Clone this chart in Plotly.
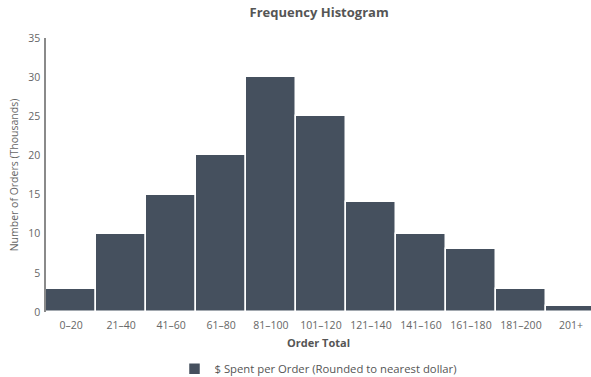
import plotly.graph_objects as go

# Order totals grouped into $20 bins
bins = ["0–20", "21–40", "41–60", "61–80", "81–100", "101–120",
        "121–140", "141–160", "161–180", "181–200", "201+"]
orders_thousands = [3, 10, 15, 20, 30, 25, 14, 10, 8, 3, 0.8]

bar_color = "#45505e"
text_gray = "#666666"

fig = go.Figure()
fig.add_trace(go.Bar(
    x=list(range(len(bins))),
    y=orders_thousands,
    name="$ Spent per Order (Rounded to nearest dollar)",
    marker=dict(color=bar_color, line=dict(color="white", width=1.5)),
    width=1.0,
    showlegend=True,
))

fig.update_layout(
    width=591, height=377,
    margin=dict(l=46, r=0, t=38, b=65, autoexpand=False),
    paper_bgcolor="white", plot_bgcolor="white",
    font=dict(family="Open Sans", size=10, color=text_gray),
    title=dict(text="<b>Frequency Histogram</b>", x=0.54, xanchor="center",
               y=0.968, yanchor="middle",
               font=dict(family="Open Sans", size=13, color="#555555")),
    bargap=0,
    xaxis=dict(
        tickmode="array", tickvals=list(range(len(bins))), ticktext=bins,
        range=[-0.5, 10.4], showgrid=False, zeroline=False, showline=False,
        ticks="", ticklabelstandoff=5,
        tickfont=dict(size=10.5, color=text_gray),
        title=dict(text="<b>Order Total</b>", standoff=8,
                   font=dict(size=11, color="#555555")),
    ),
    yaxis=dict(
        range=[0, 35], tickvals=[0, 5, 10, 15, 20, 25, 30, 35],
        showgrid=False, zeroline=False, showline=True, linecolor="#8a8a8a",
        linewidth=1.5, ticks="", ticklabelstandoff=2,
        tickfont=dict(size=10.5, color=text_gray),
        title=dict(text="Number of Orders (Thousands)", standoff=7,
                   font=dict(size=10.5, color=text_gray)),
    ),
    legend=dict(orientation="h", x=0.5, xanchor="center",
                yref="container", y=0.022, yanchor="middle", itemwidth=30,
                font=dict(size=11.3, color="#555555")),
)

fig.write_html("out.html")
